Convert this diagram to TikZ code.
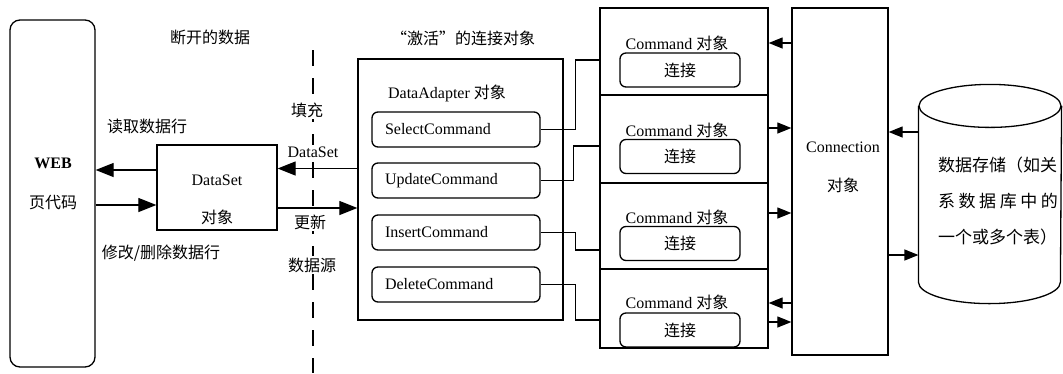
\documentclass[tikz,border=0pt]{standalone}
\usepackage{fontspec}
\setmainfont{Liberation Serif}
\newfontfamily\cjk{Noto Sans CJK SC}
\usetikzlibrary{arrows.meta}

\begin{document}
\begin{tikzpicture}[x=1pt, y=1pt, line width=1.2pt, inner sep=0pt,
		font=\fontsize{16}{19}\selectfont,
		box/.style={draw, line width=1.3pt},
		rbox/.style={draw, line width=1.3pt, rounded corners=6pt},
		lbl/.style={fill=white, inner sep=2pt},
		big/.style={-{Triangle[length=18pt, width=14pt]}},
		small/.style={-{Triangle[length=14pt, width=11pt]}}]
			\useasboundingbox (0,0) rectangle (1063,-373);
			
			\node[rbox, rounded corners=10pt, minimum width=85, minimum height=347] (web) at (52.5,-193.5) {};
			\node (web_t1) at (53,-163) {\textbf{WEB}};
			\node (web_t2) at (53,-203) {\cjk 页代码};
			
			\node[box, minimum width=120, minimum height=85] (dataset) at (217,-187.5) {};
			\node (dataset_t1) at (217,-180) {DataSet};
			\node (dataset_t2) at (217,-217) {\cjk 对象};
			
			\node[box, minimum width=205, minimum height=261] (adapter) at (460.5,-189.5) {};
			\node (adapter_t) at (447,-93) {DataAdapter {\cjk 对象}};
			\node (active_t) at (463,-38) {\cjk “激活”的连接对象};
			
			\node[rbox, minimum width=168, minimum height=35, text width=142, inner xsep=13] (sel) at (456,-129.5) {SelectCommand};
			\node[rbox, minimum width=168, minimum height=35, text width=142, inner xsep=13] (upd) at (456,-180.5) {UpdateCommand};
			\node[rbox, minimum width=168, minimum height=35, text width=142, inner xsep=13] (ins) at (456,-232.5) {InsertCommand};
			\node[rbox, minimum width=168, minimum height=35, text width=142, inner xsep=13] (del) at (456,-284.5) {DeleteCommand};
			
			\node[box, minimum width=168, minimum height=87] (cmd1) at (684,-51.5) {};
			\node[box, minimum width=168, minimum height=88] (cmd2) at (684,-139) {};
			\node[box, minimum width=168, minimum height=86] (cmd3) at (684,-226) {};
			\node[box, minimum width=168, minimum height=79] (cmd4) at (684,-308.5) {};
			
			\node (cmd1_t) at (677,-43) {Command {\cjk 对象}};
			\node (cmd2_t) at (677,-130) {Command {\cjk 对象}};
			\node (cmd3_t) at (677,-217) {Command {\cjk 对象}};
			\node (cmd4_t) at (677,-302) {Command {\cjk 对象}};
			
			\node[rbox, minimum width=120, minimum height=34] (conn1) at (680,-70) {\cjk 连接};
			\node[rbox, minimum width=120, minimum height=34] (conn2) at (680,-156.5) {\cjk 连接};
			\node[rbox, minimum width=120, minimum height=34] (conn3) at (680,-243.5) {\cjk 连接};
			\node[rbox, minimum width=120, minimum height=34] (conn4) at (680,-330) {\cjk 连接};
			
			\node[box, minimum width=96, minimum height=347] (connection) at (840,-181.5) {};
			\node (connection_t1) at (843,-147) {Connection};
			\node (connection_t2) at (843,-185) {\cjk 对象};
			
			\node[minimum width=142, minimum height=218] (store) at (990,-194) {};
			\draw[line width=1.3pt] ([yshift=-21.5]store.north) ellipse [x radius=71, y radius=21.5];
			\draw[line width=1.3pt] ([yshift=-21.5]store.north west) -- ([yshift=21.5]store.south west)
				arc[start angle=180, end angle=360, x radius=71, y radius=21.5] -- ([yshift=-21.5]store.north east);
			\node[align=left, text width=120, font=\cjk\fontsize{17}{36}\selectfont] (store_t) at (998,-201)
				{数据存储（如关\\\makebox[120pt][s]{系\hfil 数\hfil 据\hfil 库\hfil 中\hfil 的}\\一个或多个表）};
			
			\coordinate (split_top) at (313,-50);
			\coordinate (split_bot) at (313,-373);
			\draw[dash pattern=on 16pt off 12pt] (split_top) -- (split_bot);
			
			\coordinate (rd_a) at ([yshift=17.5]dataset.west);
			\coordinate (wr_a) at ([yshift=-17.5]dataset.west);
			\coordinate (fill_a) at ([yshift=19]dataset.east);
			\coordinate (upd_a) at ([yshift=-20.5]dataset.east);
			\draw[big] (rd_a) -- (rd_a -| web.east);
			\draw[big] (wr_a -| web.east) -- (wr_a);
			\draw[big] (fill_a -| adapter.west) -- (fill_a);
			\draw[big] (upd_a) -- (upd_a -| adapter.west);
			
			\draw (sel.east) -- ++(35,0) |- ([yshift=-8.5]cmd1.west);
			\draw (upd.east) -- ++(33,0) |- ([yshift=-7]cmd2.west);
			\draw (ins.east) -- ++(35,0) |- ([yshift=-24]cmd3.west);
			\draw (del.east) -- ++(35,0) |- ([yshift=-11.5]cmd4.west);
			
			\coordinate (c1_in) at ([yshift=8.5]cmd1.east);
			\coordinate (c2_out) at ([yshift=11]cmd2.east);
			\coordinate (c3_out) at ([yshift=13]cmd3.east);
			\coordinate (c4_in) at ([yshift=5.5]cmd4.east);
			\coordinate (c4_out) at ([yshift=-13.5]cmd4.east);
			\draw[small] (c1_in -| connection.west) -- (c1_in);
			\draw[small] (c2_out) -- (c2_out -| connection.west);
			\draw[small] (c3_out) -- (c3_out -| connection.west);
			\draw[small] (c4_in -| connection.west) -- (c4_in);
			\draw[small] (c4_out) -- (c4_out -| connection.west);
			
			\coordinate (s_in) at ([yshift=62]store.west);
			\coordinate (s_out) at ([yshift=-61]store.west);
			\draw[small] (s_in) -- (s_in -| connection.east);
			\draw[small] (s_out -| connection.east) -- (s_out);
			
			\node (broken_t) at (210,-37) {\cjk 断开的数据};
			\node (read_t) at (147,-126) {\cjk 读取数据行};
			\node (modify_t) at (161,-253) {\cjk 修改/删除数据行};
			\node[lbl] (fill_t) at (307,-110) {\cjk 填充};
			\node[lbl] (ds_t) at (313,-152) {DataSet};
			\node[lbl] (renew_t) at (310,-222) {\cjk 更新};
			\node[lbl] (source_t) at (312,-265) {\cjk 数据源};
		\end{tikzpicture}
\end{document}
